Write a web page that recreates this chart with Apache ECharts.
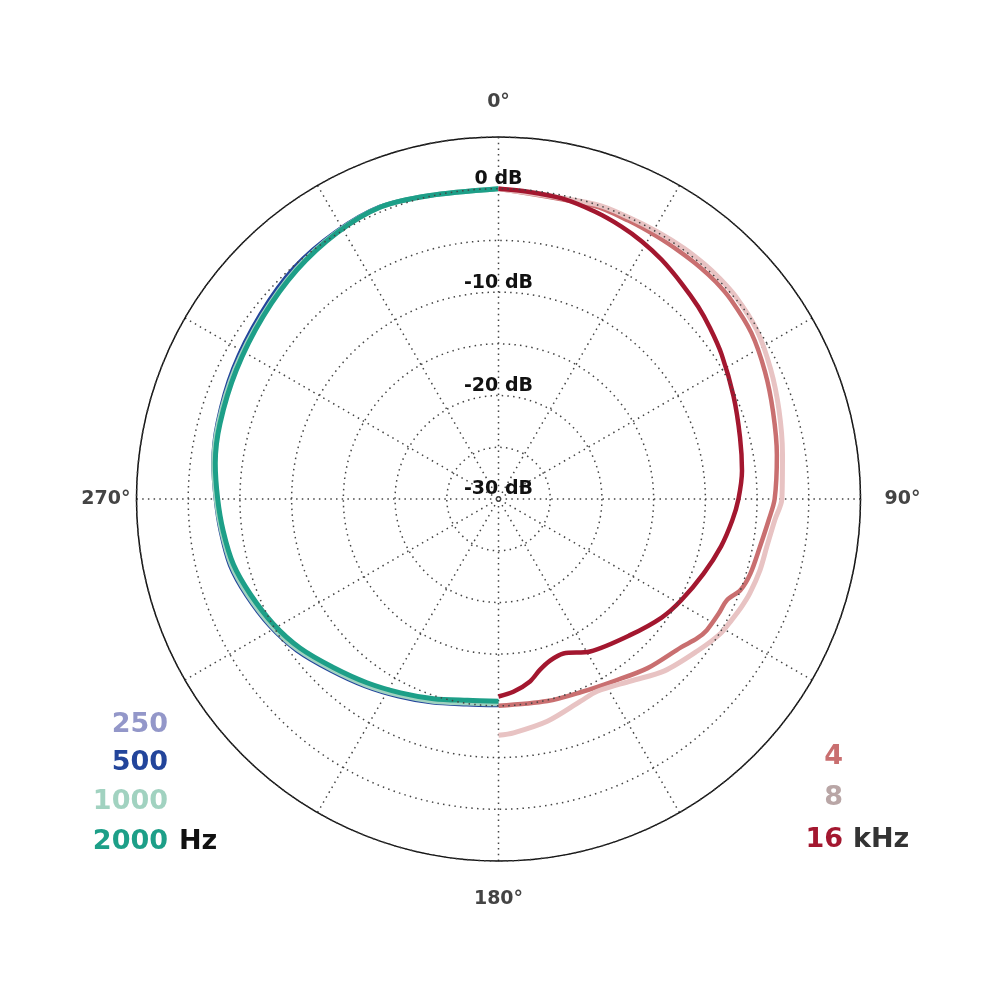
<!DOCTYPE html>
<html>
<head>
<meta charset="utf-8">
<script src="https://cdn.jsdelivr.net/npm/echarts@6/dist/echarts.min.js"></script>
<style>html,body{margin:0;padding:0;background:#fff;}#chart{width:1000px;height:1000px;}</style>
</head>
<body>
<div id="chart"></div>
<script>
// Angles (degrees, clockwise from 0° at top) at which the levels were read
const ANGLES_LOW = [180,188.8,198,206.8,215.6,224.3,233.1,240.9,249,256.1,263.4,270,277.2,285.2,296.2,307.8,318.6,328.7,337.9,347,360];
const ANGLES_4K  = [0,18,25,31,36,41,45,49.4,56.7,64.5,72.4,81,90,94.5,100.3,106.5,110.6,113.9,117.5,122.2,125.1,129,138.6,147.6,157,166.4,180];
const ANGLES_8K  = [0,18.3,25.1,30.8,36.5,41.4,44.9,49.4,56.7,64.5,72.4,81,90,94.3,100,105.2,110.6,114,117.4,121.2,127.4,136,144,152.8,157.9,167.6,176.3,180];
const ANGLES_16K = [0,5.5,11.9,18.6,24.3,29.1,34.3,40.3,46.1,51,57.1,66.4,75.7,83.4,90,95.2,102,110,119,126,136,149,157.2,162.3,166.4,170.2,175.6,180];

// Levels in dB
const HZ_2000 = [-10.45,-10.3,-9.7,-9.0,-8.15,-7.2,-6.0,-5.1,-4.3,-3.6,-3.2,-2.85,-2.4,-2.1,-1.75,-1.2,-0.5,0.1,0.45,0.1,0];
const HZ_1000 = [-10.2,-10.05,-9.45,-8.75,-7.9,-6.95,-5.75,-4.85,-4.05,-3.4,-3.05,-2.7,-2.25,-1.95,-1.6,-1.1,-0.4,0.15,0.45,0.1,0];
const HZ_500  = [-10.05,-9.9,-9.3,-8.6,-7.75,-6.8,-5.6,-4.7,-3.9,-3.25,-2.95,-2.65,-2.2,-1.85,-1.4,-0.85,-0.15,0.25,0.5,0.1,0];
const HZ_250  = [-10.15,-10.0,-9.4,-8.7,-7.85,-6.9,-5.7,-4.8,-4.0,-3.35,-3.0,-2.7,-2.25,-1.9,-1.5,-0.95,-0.25,0.2,0.45,0.1,0];

const KHZ_4  = [0,-0.2,-0.3,-0.35,-0.35,-0.3,-0.3,-0.4,-0.75,-1.45,-2.15,-2.75,-3.3,-3.8,-4.3,-4.6,-5.0,-5.85,-6.0,-6.2,-6.55,-7.25,-8.2,-9.15,-9.7,-9.9,-10.0];
const KHZ_8  = [0,0,0,0.05,0.15,0.2,0.2,0.15,-0.15,-0.85,-1.55,-2.2,-2.6,-3.2,-3.65,-3.8,-4.05,-4.3,-4.6,-4.9,-5.8,-6.9,-8.25,-9.1,-8.9,-8.0,-7.35,-7.15];
const KHZ_16 = [0,-0.15,-0.3,-0.7,-1.1,-1.5,-2.0,-2.65,-3.2,-3.7,-4.3,-5.2,-5.9,-6.3,-6.8,-7.3,-8.0,-8.9,-9.8,-10.5,-11.7,-12.8,-13.8,-13.6,-13.0,-12.1,-11.3,-10.9];

const DB_TICKS = [0,-10,-20,-30];
const ANGLE_TICKS = [0,90,180,270];

const LOW_NAMES = ['250','500','1000','2000'];
const LOW_COLORS = ['#9397c9','#23459b','#a1d2c0','#1d9f88'];
const HIGH_NAMES = ['4','8','16'];
const HIGH_COLORS = ['#c96f70','#e8c3c3','#a3172f'];
const HIGH_LABEL_COLORS = ['#c96f70','#b9a6a6','#a3172f'];

function pairs(vals, angs){ return vals.map((v,i)=>[v, angs[i]]); }

const chart = echarts.init(document.getElementById('chart'), null, {renderer:'canvas'});
const FONT = '"DejaVu Sans", sans-serif';
const dotted = { color:'#444', width:1.5, type:[1.5,4.2] };

const lowData = [HZ_250, HZ_500, HZ_1000, HZ_2000];
const highData = [KHZ_4, KHZ_8, KHZ_16];
const highAngles = [ANGLES_4K, ANGLES_8K, ANGLES_16K];
const lowWidths = [4,4,5,5];
const highWidths = [4.5,5,4.5];

const series = [];
lowData.forEach((d,i)=>series.push({
  name: LOW_NAMES[i]+' Hz', type:'line', coordinateSystem:'polar', smooth:0.3,
  symbol:'none', data: pairs(d, ANGLES_LOW), lineStyle:{color:LOW_COLORS[i], width:lowWidths[i]}, z:2+i
}));
highData.forEach((d,i)=>series.push({
  name: HIGH_NAMES[i]+' kHz', type:'line', coordinateSystem:'polar', smooth:0.3,
  symbol:'none', data: pairs(d, highAngles[i]), lineStyle:{color:HIGH_COLORS[i], width:highWidths[i]}, z:6+i
}));

const legendY1 = [725,763,802,842];
const legendY2 = [757,798,840];
const graphic = [];
LOW_NAMES.forEach((n,i)=>graphic.push({type:'text', x:168, y:legendY1[i], z:100,
  style:{text:n, textAlign:'right', textVerticalAlign:'middle', fill:LOW_COLORS[i], font:'bold 27px '+FONT}}));
graphic.push({type:'text', x:179, y:842, z:100, style:{text:'Hz', textAlign:'left', textVerticalAlign:'middle', fill:'#111', font:'bold 27px '+FONT}});
HIGH_NAMES.forEach((n,i)=>graphic.push({type:'text', x:843, y:legendY2[i], z:100,
  style:{text:n, textAlign:'right', textVerticalAlign:'middle', fill:HIGH_LABEL_COLORS[i], font:'bold 27px '+FONT}}));
graphic.push({type:'text', x:853, y:840, z:100, style:{text:'kHz', textAlign:'left', textVerticalAlign:'middle', fill:'#333', font:'bold 27px '+FONT}});

const angLabelStyle = { color:'#444', fontSize:19, fontWeight:'bold', fontFamily:FONT };
chart.setOption({
  animation:false,
  backgroundColor:'#fff',
  polar:{ center:['49.85%','49.9%'], radius:362 },
  angleAxis:{
    type:'value', min:0, max:360, interval:30, startAngle:90, clockwise:true,
    axisLine:{ lineStyle:{ color:'#111', width:1.5 } },
    axisTick:{ show:false },
    axisLabel:{ margin:24, color:'#444', fontSize:19, fontWeight:'bold', fontFamily:FONT,
      formatter:(v)=> {
        if (ANGLE_TICKS.indexOf(v) < 0) return '';
        const key = v===0 ? 't' : v===180 ? 'b' : v===270 ? 'l' : 'r';
        return '{'+key+'|'+v+'°}';
      },
      rich:{
        t:Object.assign({padding:[0,0,1,0]}, angLabelStyle),
        b:Object.assign({padding:[5,0,0,0]}, angLabelStyle),
        l:Object.assign({padding:[0,-18,0,0]}, angLabelStyle),
        r:Object.assign({padding:[0,0,0,0]}, angLabelStyle)
      }
    },
    splitLine:{ show:true, lineStyle:dotted }
  },
  radiusAxis:{
    type:'value', min:-30, max:5, interval:5,
    axisLine:{ show:false }, axisTick:{ show:false },
    axisLabel:{ show:true, margin:0, align:'center', verticalAlign:'bottom', showMinLabel:true,
      color:'#111', fontSize:19, fontWeight:'bold', fontFamily:FONT,
      formatter:(v)=> (DB_TICKS.indexOf(v)>=0) ? v+' dB' : '' },
    splitLine:{ show:true, lineStyle:dotted },
    z:20
  },
  series: series,
  graphic: graphic
});
</script>
</body>
</html>
